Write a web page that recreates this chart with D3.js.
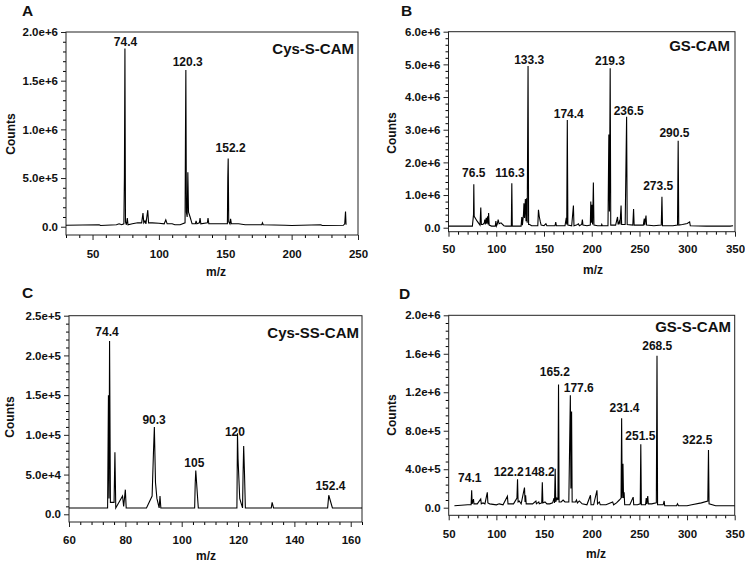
<!DOCTYPE html>
<html><head><meta charset="utf-8">
<script src="https://cdn.jsdelivr.net/npm/d3@7"></script>
<style>
body{margin:0;background:#fff;}
svg{display:block;font-family:"Liberation Sans",Arial,sans-serif;font-weight:bold;}
</style></head>
<body><svg id="c" width="745" height="564"></svg>
<script>
// ---------- DATA ----------
// Panel A: Cys-S-CAM  [m/z, counts]
const specA = [[30,0.015e6],[55,0.02e6],[56,0.012e6],[68,0.02e6],[70,0.03e6],[72,0.02e6],[73.6,0.03e6],[74.0,0.5e6],[74.4,1.83e6],[74.8,0.05e6],[75.5,0.02e6],[76.2,0.09e6],[76.7,0.02e6],[80,0.03e6],[84,0.04e6],[87,0.04e6],[88,0.14e6],[88.6,0.04e6],[89.5,0.06e6],[90.2,0.03e6],[91.6,0.17e6],[92.2,0.04e6],[95,0.04e6],[100,0.035e6],[104,0.03e6],[105.2,0.07e6],[106.2,0.03e6],[110,0.03e6],[112,0.02e6],[116,0.02e6],[119.7,0.04e6],[120.0,0.9e6],[120.3,1.61e6],[120.7,0.15e6],[121.3,0.1e6],[121.8,0.56e6],[122.3,0.15e6],[123.5,0.1e6],[125,0.03e6],[127.5,0.03e6],[128,0.06e6],[128.6,0.03e6],[130.5,0.04e6],[131,0.09e6],[131.6,0.03e6],[136.5,0.04e6],[137,0.09e6],[137.6,0.03e6],[145,0.03e6],[151.6,0.03e6],[151.9,0.5e6],[152.2,0.7e6],[152.6,0.05e6],[153.5,0.03e6],[154,0.08e6],[154.6,0.03e6],[160,0.03e6],[165,0.02e6],[177.5,0.02e6],[178,0.04e6],[178.6,0.02e6],[195,0.015e6],[200,0.012e6],[222,0.02e6],[223,0.012e6],[239,0.015e6],[240,0.03e6],[240.6,0.155e6],[241,0.02e6]];
const peakLabelsA = ["74.4","120.3","152.2"];
const peakLabelXA = [74.8,121.7,154.0];
const peakLabelYA = [1.86e6,1.65e6,0.77e6];
const xTicksA = [50,100,150,200,250];
const yTicksA = [0,5e5,1e6,1.5e6,2e6];

// Panel B: GS-CAM
const specB = [[50,0.05e6],[75,0.05e6],[76.2,0.4e6],[76.5,1.33e6],[76.9,0.35e6],[80,0.2e6],[83,0.08e6],[83.8,0.62e6],[84.4,0.1e6],[86,0.1e6],[87.5,0.15e6],[88,0.25e6],[88.5,0.1e6],[89.5,0.3e6],[90,0.12e6],[91,0.35e6],[91.5,0.1e6],[92,0.45e6],[92.6,0.08e6],[95,0.05e6],[99,0.05e6],[99.6,0.2e6],[100.2,0.05e6],[101,0.1e6],[102,0.25e6],[103,0.12e6],[105,0.15e6],[108,0.06e6],[110,0.05e6],[115.8,0.05e6],[116.3,1.36e6],[116.8,0.05e6],[126,0.05e6],[126.8,0.33e6],[127.4,0.08e6],[128.5,0.4e6],[129,0.75e6],[129.6,0.3e6],[130.5,0.88e6],[131.2,0.2e6],[131.8,0.9e6],[132.4,0.15e6],[133.3,4.95e6],[133.9,0.1e6],[135,0.1e6],[137,0.06e6],[143.5,0.06e6],[144.2,0.55e6],[145,0.35e6],[146,0.2e6],[147,0.08e6],[150,0.06e6],[152,0.12e6],[153,0.06e6],[161.5,0.06e6],[162.3,0.17e6],[163,0.06e6],[172,0.06e6],[173.3,0.3e6],[173.8,0.1e6],[174.4,3.3e6],[175,0.08e6],[179,0.06e6],[180.8,0.68e6],[181.4,0.06e6],[184,0.08e6],[186,0.12e6],[187,0.06e6],[189.5,0.1e6],[190.2,0.25e6],[190.8,0.08e6],[195,0.06e6],[198.5,0.08e6],[199,0.8e6],[199.6,0.15e6],[200.3,0.7e6],[200.9,0.1e6],[201.7,1.38e6],[202.3,0.08e6],[206,0.06e6],[210,0.06e6],[210.5,0.1e6],[211,0.06e6],[217,0.06e6],[217.9,2.85e6],[218.5,0.5e6],[219.3,4.88e6],[219.9,0.08e6],[225,0.08e6],[227,0.33e6],[227.6,0.1e6],[229,0.2e6],[229.6,0.1e6],[230.7,0.68e6],[231.3,0.1e6],[235,0.1e6],[236.5,3.4e6],[237.1,0.1e6],[243,0.08e6],[243.8,0.57e6],[244.4,0.08e6],[254,0.08e6],[255,0.28e6],[255.5,0.08e6],[256.8,0.37e6],[257.4,0.08e6],[265,0.06e6],[272.8,0.08e6],[273.5,0.95e6],[274.1,0.06e6],[285,0.06e6],[289.8,0.08e6],[290.5,2.66e6],[291.1,0.08e6],[295,0.1e6],[300,0.13e6],[302.5,0.18e6],[303.2,0.06e6],[320,0.05e6],[345,0.05e6],[348,0.06e6]];
const peakLabelsB = ["76.5","116.3","133.3","174.4","219.3","236.5","290.5","273.5"];
const peakLabelXB = [76.4,114.4,134.5,175.9,219.1,238.7,286.6,269.6];
const peakLabelYB = [1.54e6,1.54e6,5.0e6,3.35e6,4.97e6,3.44e6,2.77e6,1.15e6];
const xTicksB = [50,100,150,200,250,300,350];
const yTicksB = [0,1e6,2e6,3e6,4e6,5e6,6e6];

// Panel C: Cys-SS-CAM
const specC = [[60,0.8e4],[73.7,0.8e4],[74.0,15e4],[74.2,2e4],[74.4,21.8e4],[74.7,1.5e4],[76.0,1.5e4],[76.3,7.8e4],[76.6,0.8e4],[79,2.3e4],[79.4,1.0e4],[80,3.1e4],[80.3,0.8e4],[87.5,0.8e4],[89.5,2.3e4],[90.0,8e4],[90.3,11e4],[90.7,4e4],[91.2,2e4],[92,0.8e4],[92.3,2.3e4],[92.6,0.8e4],[104.6,0.8e4],[104.8,3.9e4],[105,5.5e4],[105.3,3.9e4],[105.6,2.3e4],[105.9,0.8e4],[119.6,0.8e4],[119.8,10.2e4],[120.0,7e4],[120.3,4.5e4],[120.6,2e4],[121,1.5e4],[121.6,0.8e4],[121.8,5.3e4],[122.0,8.6e4],[122.3,5e4],[122.6,0.8e4],[131.8,0.8e4],[132.1,1.5e4],[132.6,0.8e4],[151.8,0.8e4],[152.2,2.4e4],[153.5,0.8e4],[164,0.8e4]];
const peakLabelsC = ["74.4","90.3","105","120","152.4"];
const peakLabelXC = [73.5,90.2,104.5,118.9,152.8];
const peakLabelYC = [2.25e5,1.14e5,0.60e5,0.98e5,0.30e5];
const xTicksC = [60,80,100,120,140,160];
const yTicksC = [0,5e4,1e5,1.5e5,2e5,2.5e5];

// Panel D: GS-S-CAM
const specD = [[56,0.02e6],[70,0.03e6],[73.5,0.03e6],[74.1,0.18e6],[74.6,0.04e6],[76,0.09e6],[76.5,0.04e6],[80,0.04e6],[83.6,0.09e6],[84.2,0.04e6],[86,0.05e6],[88,0.04e6],[90.5,0.16e6],[91.1,0.05e6],[93,0.04e6],[100,0.03e6],[103,0.04e6],[107,0.03e6],[111.6,0.12e6],[112.2,0.04e6],[118,0.04e6],[121.6,0.1e6],[122.2,0.295e6],[122.8,0.06e6],[124,0.07e6],[126,0.04e6],[129.5,0.21e6],[130.1,0.06e6],[130.7,0.13e6],[131.3,0.04e6],[138,0.04e6],[141.5,0.07e6],[142,0.04e6],[144.5,0.06e6],[145,0.04e6],[147.6,0.05e6],[148.2,0.265e6],[148.8,0.05e6],[151,0.06e6],[153,0.04e6],[156,0.04e6],[159,0.05e6],[160.5,0.1e6],[161,0.05e6],[161.7,0.405e6],[162.3,0.06e6],[163.5,0.1e6],[164.6,0.08e6],[165.2,1.28e6],[165.8,0.06e6],[168,0.06e6],[170,0.08e6],[172,0.06e6],[176,0.06e6],[177.6,1.17e6],[178.2,0.2e6],[178.9,1.0e6],[179.5,0.06e6],[183,0.06e6],[184,0.08e6],[185,0.05e6],[187,0.07e6],[190,0.04e6],[195,0.03e6],[198.7,0.13e6],[199.3,0.03e6],[202,0.03e6],[205.5,0.18e6],[206.1,0.04e6],[208,0.06e6],[209,0.03e6],[215,0.03e6],[222,0.06e6],[223,0.03e6],[226,0.05e6],[229,0.08e6],[230.8,0.1e6],[231.4,0.93e6],[232,0.1e6],[232.8,0.457e6],[233.4,0.1e6],[234,0.16e6],[234.6,0.03e6],[240,0.03e6],[243.5,0.11e6],[244.1,0.03e6],[248,0.03e6],[250.9,0.04e6],[251.5,0.66e6],[252.1,0.03e6],[256.5,0.03e6],[257.2,0.1e6],[257.8,0.04e6],[258.8,0.12e6],[259.4,0.04e6],[263,0.04e6],[267.8,0.05e6],[268.5,1.58e6],[269.1,0.03e6],[275,0.03e6],[276,0.07e6],[276.6,0.02e6],[289,0.02e6],[290,0.04e6],[291,0.02e6],[300,0.02e6],[305,0.03e6],[315,0.05e6],[321.8,0.07e6],[322.5,0.6e6],[323.1,0.04e6],[330,0.02e6],[335,0.02e6],[345,0.02e6],[350,0.02e6]];
const peakLabelsD = ["74.1","122.2","148.2","165.2","177.6","231.4","251.5","268.5","322.5"];
const peakLabelXD = [72.1,112.9,145.5,161.3,186.4,234.4,251.0,268.8,310.8];
const peakLabelYD = [0.267e6,0.33e6,0.33e6,1.37e6,1.20e6,0.99e6,0.70e6,1.636e6,0.665e6];
const xTicksD = [50,100,150,200,250,300,350];
const yTicksD = [0,4e5,8e5,1.2e6,1.6e6,2e6];

const panelLetters = ["A","B","C","D"];
const panelTitles = ["Cys-S-CAM","GS-CAM","Cys-SS-CAM","GS-S-CAM"];

// ---------- LAYOUT ----------
const panels = [
 {spec:specA, lab:peakLabelsA, lx:peakLabelXA, ly:peakLabelYA, xt:xTicksA, yt:yTicksA,
  xd:[30,250], yd:[-0.085e6,2.0e6], L:66, R:358, T:32, B:235,
  letter:[22,16], ytitle:[15,134], xtitle:[216,276], xlabPad:10, titlePos:[354,54]},
 {spec:specB, lab:peakLabelsB, lx:peakLabelXB, ly:peakLabelYB, xt:xTicksB, yt:yTicksB,
  xd:[50,350], yd:[-0.122e6,6.0e6], L:448.5, R:735, T:31.7, B:231.7,
  letter:[401,16], ytitle:[396,133], xtitle:[593,274], xlabPad:8, titlePos:[730,51]},
 {spec:specC, lab:peakLabelsC, lx:peakLabelXC, ly:peakLabelYC, xt:xTicksC, yt:yTicksC,
  xd:[60,164], yd:[-0.097e5,2.5e5], L:69, R:362, T:315.7, B:522,
  letter:[22,298], ytitle:[14,417], xtitle:[206,559.5], xlabPad:9, titlePos:[359,338]},
 {spec:specD, lab:peakLabelsD, lx:peakLabelXD, ly:peakLabelYD, xt:xTicksD, yt:yTicksD,
  xd:[50,350], yd:[-0.079e6,2.0e6], L:448.7, R:734.7, T:315.3, B:515.3,
  letter:[399,299], ytitle:[396,415], xtitle:[596,558], xlabPad:9.5, titlePos:[731,332]}
];

const svg = d3.select("#c");
const fmtY = v => v === 0 ? "0.0" : d3.format(".1e")(v);
const ink = "#111";

panels.forEach((p,i) => {
  const x = d3.scaleLinear().domain(p.xd).range([p.L,p.R]);
  const y = d3.scaleLinear().domain(p.yd).range([p.B,p.T]);
  const g = svg.append("g");

  const xStep = (p.xt[1]-p.xt[0])/5, yStep = (p.yt[1]-p.yt[0])/5;
  const xMinor = d3.range(Math.ceil(p.xd[0]/xStep-1e-9)*xStep, p.xd[1]+1e-9, xStep)
      .filter(v => !p.xt.some(t => Math.abs(t-v) < xStep/10));
  const yMinor = d3.range(0, p.yd[1]+yStep/10, yStep)
      .filter(v => !p.yt.some(t => Math.abs(t-v) < yStep/10));

  // minor ticks
  g.append("g").attr("transform",`translate(0,${p.B})`)
    .call(d3.axisBottom(x).tickValues(xMinor).tickSize(3).tickFormat(""))
    .call(s => s.select(".domain").remove());
  g.append("g").attr("transform",`translate(${p.L},0)`)
    .call(d3.axisLeft(y).tickValues(yMinor).tickSize(3).tickFormat(""))
    .call(s => s.select(".domain").remove());
  // major ticks
  const xa = g.append("g").attr("transform",`translate(0,${p.B})`)
    .call(d3.axisBottom(x).tickValues(p.xt).tickSize(5).tickPadding(p.xlabPad).tickFormat(d3.format("d")))
    .call(s => s.select(".domain").remove());
  const ya = g.append("g").attr("transform",`translate(${p.L},0)`)
    .call(d3.axisLeft(y).tickValues(p.yt).tickSize(5).tickPadding(3).tickFormat(fmtY))
    .call(s => s.select(".domain").remove());
  [xa,ya].forEach(a => {
    a.selectAll("text").attr("font-family",'"Liberation Sans",Arial,sans-serif')
      .attr("font-weight","bold").attr("font-size","11.5px").attr("fill",ink);
    a.selectAll("line").attr("stroke","#222");
  });

  // frame
  g.append("rect").attr("x",p.L).attr("y",p.T).attr("width",p.R-p.L).attr("height",p.B-p.T)
    .attr("fill","none").attr("stroke","#222").attr("stroke-width",1);

  // spectrum
  g.append("path").datum(p.spec)
    .attr("d", d3.line().x(d => x(d[0])).y(d => y(d[1])))
    .attr("fill","none").attr("stroke","#000").attr("stroke-width",1.1)
    .attr("stroke-linejoin","miter");

  // peak labels
  g.selectAll("text.pk").data(p.lab).join("text").attr("class","pk")
    .attr("x",(d,k) => x(p.lx[k])).attr("y",(d,k) => y(p.ly[k]))
    .attr("text-anchor","middle").attr("font-size","12px").attr("fill",ink).text(d => d);

  // panel title
  g.append("text").attr("x",p.titlePos[0]).attr("y",p.titlePos[1])
    .attr("text-anchor","end").attr("font-size","15px").attr("fill",ink).text(panelTitles[i]);
  // panel letter
  g.append("text").attr("x",p.letter[0]).attr("y",p.letter[1])
    .attr("font-size","15.5px").attr("fill",ink).text(panelLetters[i]);
  // axis titles
  g.append("text").attr("transform",`translate(${p.ytitle[0]},${p.ytitle[1]}) rotate(-90)`)
    .attr("text-anchor","middle").attr("font-size","12px").attr("fill",ink).text("Counts");
  g.append("text").attr("x",p.xtitle[0]).attr("y",p.xtitle[1])
    .attr("text-anchor","middle").attr("font-size","12px").attr("fill",ink).text("m/z");
});
</script></body></html>
